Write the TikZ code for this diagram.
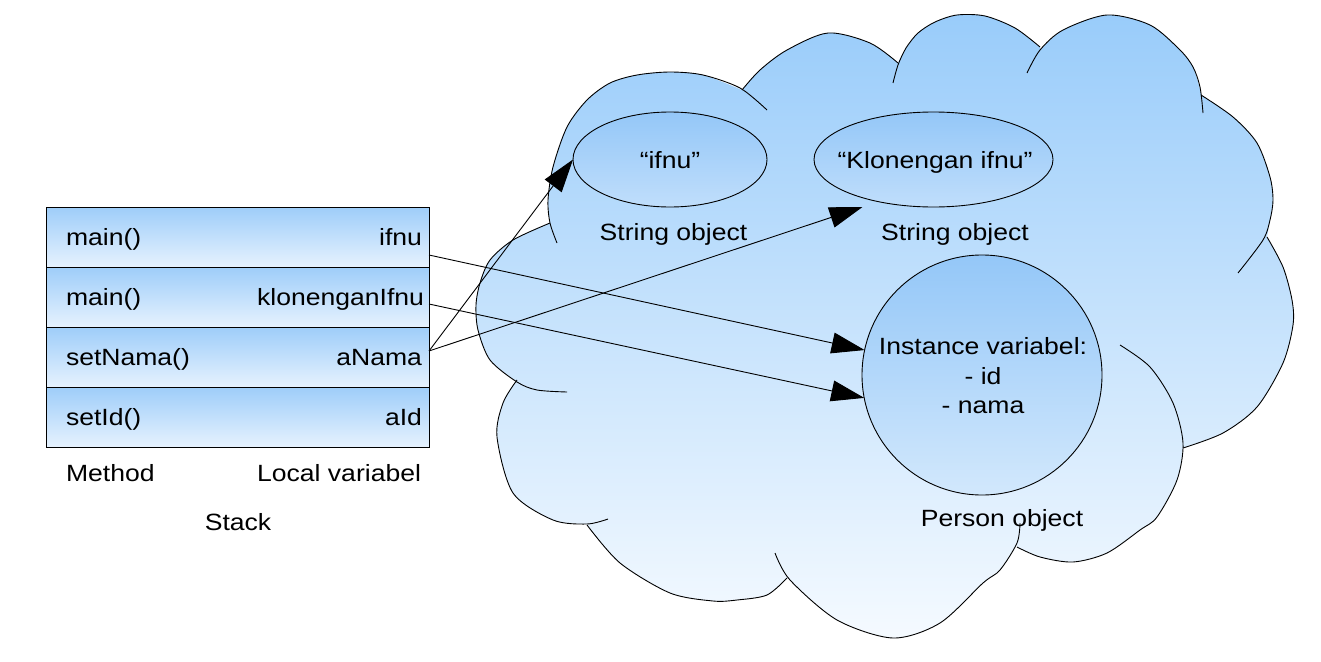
\documentclass[tikz,border=0pt]{standalone}
\usepackage{fontspec}
\setmainfont{Liberation Sans}[FakeStretch=1.13]
\usetikzlibrary{arrows.meta,shapes.geometric}
\definecolor{cltop}{RGB}{153,204,250}
\definecolor{clbot}{RGB}{245,250,255}
\definecolor{rowtop}{RGB}{158,205,249}
\definecolor{rowbot}{RGB}{230,242,254}
\definecolor{eltop}{RGB}{148,199,248}
\definecolor{elbot}{RGB}{192,222,251}
\definecolor{citop}{RGB}{148,199,248}
\definecolor{cibot}{RGB}{210,232,252}
\begin{document}
\begin{tikzpicture}[x=1pt,y=-1pt,
  lbl/.style={font=\fontsize{23.5}{28}\selectfont, inner sep=0pt, outer sep=0pt},
  rowbox/.style={draw=black, line width=1pt, minimum width=383pt, minimum height=60pt, inner sep=0pt, outer sep=0pt, top color=rowtop, bottom color=rowbot},
  obj/.style={ellipse, draw=black, line width=0.9pt, inner sep=0pt, outer sep=0pt, top color=eltop, bottom color=elbot},
  pobj/.style={circle, draw=black, line width=0.9pt, inner sep=0pt, outer sep=0pt, top color=citop, bottom color=cibot},
  lobe/.style={draw=black, line width=0.9pt},
  ptr/.style={draw=black, line width=0.9pt, -{Triangle[length=33pt,width=21pt]}}]

\useasboundingbox (0,0) rectangle (1321,661);

% cloud fill
\shade[top color=cltop, bottom color=clbot]
  plot[smooth] coordinates {(550,223) (548,200) (553,167) (567,127) (587,100) (610,83) (637,75) (670,72) (703,75) (742,90)}
  -- plot[smooth] coordinates {(742,90) (760,70) (787,50) (828,33) (870,43) (898,63)}
  -- plot[smooth] coordinates {(898,63) (906,48) (918,33) (935,22) (957,15) (985,16) (1015,28) (1040,47)}
  -- plot[smooth] coordinates {(1040,50) (1063,30) (1107,15) (1150,25) (1180,50) (1193,67) (1201,93)}
  -- plot[smooth] coordinates {(1201,95) (1233,117) (1257,143) (1270,177) (1273,200) (1270,220) (1267,237)}
  -- plot[smooth] coordinates {(1267,237) (1283,267) (1292,300) (1293,325) (1283,363) (1257,407) (1223,433) (1183,448)}
  -- plot[smooth] coordinates {(1183,446) (1177,480) (1157,517) (1140,530) (1107,553) (1073,562) (1040,557) (1017,547)}
  -- plot[smooth] coordinates {(1017,545) (1000,570) (983,583) (940,623) (893,638) (837,620) (790,580)}
  -- plot[smooth] coordinates {(787,578) (767,595) (737,600) (713,601) (670,593) (620,563) (587,525)}
  -- plot[smooth] coordinates {(587,524) (553,520) (513,493) (497,437) (503,403) (517,380)}
  -- plot[smooth] coordinates {(517,382) (490,360) (478,330) (476,305) (480,283) (490,260) (513,240) (550,223)}
  -- cycle;

% cloud outline, lobe by lobe
\draw[lobe] plot[smooth] coordinates {(557,243) (550,223) (548,200) (553,167) (567,127) (587,100) (610,83) (637,75) (670,72) (703,75) (740,88) (767,110)};
\draw[lobe] plot[smooth] coordinates {(742,90) (760,70) (787,50) (828,33) (870,43) (898,63)};
\draw[lobe] plot[smooth] coordinates {(893,83) (898,65) (906,48) (918,33) (935,22) (957,15) (985,16) (1015,28) (1040,47)};
\draw[lobe] plot[smooth] coordinates {(1027,73) (1040,50) (1063,30) (1107,15) (1150,25) (1180,50) (1193,67) (1200,87) (1203,113)};
\draw[lobe] plot[smooth] coordinates {(1201,95) (1233,117) (1257,143) (1270,177) (1273,200) (1270,220) (1263,240) (1238,273)};
\draw[lobe] plot[smooth] coordinates {(1183,448) (1223,433) (1257,407) (1283,363) (1293,325) (1292,300) (1283,267) (1267,237)};
\draw[lobe] plot[smooth] coordinates {(1017,547) (1040,557) (1073,562) (1107,553) (1140,530) (1157,517) (1177,480) (1183,443) (1173,403) (1150,367) (1120,345)};
\draw[lobe] plot[smooth] coordinates {(1020,523) (1017,543) (1000,570) (983,583) (940,623) (893,638) (837,620) (790,580) (775,553)};
\draw[lobe] plot[smooth] coordinates {(587,525) (620,563) (670,593) (713,601) (737,600) (767,595) (787,578)};
\draw[lobe] plot[smooth] coordinates {(517,380) (503,403) (497,437) (513,493) (553,520) (587,524) (608,519)};
\draw[lobe] plot[smooth] coordinates {(550,223) (513,240) (490,260) (480,283) (476,305) (478,330) (490,360) (517,382) (537,390) (567,392)};

% objects in the heap
\node[obj, minimum width=194pt, minimum height=95pt] (e1) at (670,159.5) {};
\node[obj, minimum width=239pt, minimum height=95pt] (e2) at (933.5,159.5) {};
\node[pobj, minimum size=240pt] (pc) at (982,375) {};

% stack
\node[rowbox] (r1) at (237.5,237) {};
\node[rowbox] (r2) at (237.5,297) {};
\node[rowbox] (r3) at (237.5,357) {};
\node[rowbox] (r4) at (237.5,417) {};

% pointers
\draw[ptr] ([yshift=12pt]r1.south east) -- (pc.168);
\draw[ptr] ([yshift=23pt]r2.south east) -- (pc.191);
\draw[ptr] ([yshift=6pt]r3.east) -- (e1.west);
\draw[ptr] ([yshift=6pt]r3.east) -- ([xshift=-71pt]e2.south);

% texts
\node[lbl, anchor=base west] (m1) at (66,245.7) {main()};
\node[lbl, anchor=base east] (v1) at (422,245.7) {ifnu};
\node[lbl, anchor=base west] (m2) at (66,305.7) {main()};
\node[lbl, anchor=base east] (v2) at (424,305.7) {klonenganIfnu};
\node[lbl, anchor=base west] (m3) at (66,365.7) {setNama()};
\node[lbl, anchor=base east] (v3) at (422,365.7) {aNama};
\node[lbl, anchor=base west] (m4) at (66,425.7) {setId()};
\node[lbl, anchor=base east] (v4) at (422,425.7) {aId};
\node[lbl, anchor=base west] (meth) at (66,481) {Method};
\node[lbl, anchor=base east] (locv) at (421,481) {Local variabel};
\node[lbl, anchor=base] (stk) at (238,530) {Stack};

\node[lbl, anchor=base] (t1) at (670,168.3) {“ifnu”};
\node[lbl, anchor=base] (t2) at (935,168.3) {“Klonengan ifnu”};
\node[lbl, anchor=base] (so1) at (673.5,240.5) {String object};
\node[lbl, anchor=base] (so2) at (955,240.5) {String object};
\node[lbl, anchor=base] (iv1) at (983,354.3) {Instance variabel:};
\node[lbl, anchor=base] (iv2) at (983,384.3) {- id};
\node[lbl, anchor=base] (iv3) at (983,413.3) {- nama};
\node[lbl, anchor=base] (po) at (1002,526.7) {Person object};
\end{tikzpicture}
\end{document}
